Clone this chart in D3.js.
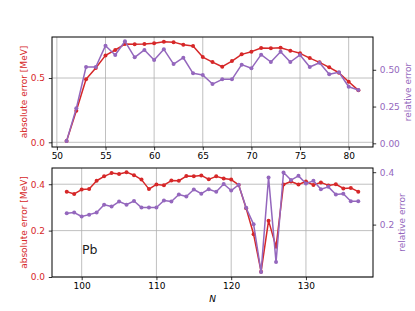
<!DOCTYPE html>
<html>
<head>
<meta charset="utf-8">
<script src="https://cdn.jsdelivr.net/npm/d3@7"></script>
<style>
  body { margin: 0; background: #fff; }
  svg { font-family: "DejaVu Sans", sans-serif; }
</style>
</head>
<body>
<div id="chart"></div>
<script>
// top panel (N = 51..81)
const topN = [51, 52, 53, 54, 55, 56, 57, 58, 59, 60, 61, 62, 63, 64, 65, 66,
  67, 68, 69, 70, 71, 72, 73, 74, 75, 76, 77, 78, 79, 80, 81];
const topAbs = [0.01, 0.246, 0.49, 0.578, 0.676, 0.718, 0.764, 0.762, 0.764, 0.77,
  0.782, 0.779, 0.759, 0.749, 0.663, 0.624, 0.588, 0.632, 0.684, 0.705, 0.733,
  0.731, 0.736, 0.713, 0.692, 0.655, 0.622, 0.583, 0.541, 0.471, 0.404];
const topRel = [0.015, 0.238, 0.519, 0.519, 0.664, 0.601, 0.694, 0.585, 0.635, 0.567,
  0.639, 0.539, 0.582, 0.476, 0.465, 0.403, 0.435, 0.435, 0.535, 0.51, 0.603,
  0.553, 0.623, 0.553, 0.601, 0.519, 0.548, 0.469, 0.483, 0.385, 0.363];

// bottom panel (Pb, N = 98..137)
const botN = [98, 99, 100, 101, 102, 103, 104, 105, 106, 107, 108, 109, 110, 111,
  112, 113, 114, 115, 116, 117, 118, 119, 120, 121, 122, 123, 124, 125, 126, 127,
  128, 129, 130, 131, 132, 133, 134, 135, 136, 137];
const botAbs = [0.368, 0.358, 0.377, 0.379, 0.415, 0.434, 0.448, 0.444, 0.452, 0.439,
  0.42, 0.379, 0.399, 0.396, 0.416, 0.415, 0.435, 0.434, 0.438, 0.421, 0.434, 0.425,
  0.42, 0.397, 0.296, 0.184, 0.023, 0.243, 0.13, 0.399, 0.412, 0.399, 0.412, 0.397,
  0.408, 0.395, 0.4, 0.382, 0.384, 0.368];
const botRel = [0.243, 0.246, 0.231, 0.238, 0.246, 0.276, 0.269, 0.288, 0.276, 0.29,
  0.265, 0.265, 0.265, 0.292, 0.288, 0.315, 0.307, 0.334, 0.318, 0.335, 0.325, 0.355,
  0.33, 0.352, 0.264, 0.201, 0.019, 0.38, 0.057, 0.399, 0.37, 0.386, 0.357, 0.367,
  0.335, 0.344, 0.315, 0.318, 0.289, 0.289];

const topXTicks = [50, 55, 60, 65, 70, 75, 80];
const topLTicks = [0, 0.5];
const topRTicks = [0, 0.25, 0.5];
const botXTicks = [100, 110, 120, 130];
const botLTicks = [0, 0.2, 0.4];
const botRTicks = [0.2, 0.4];

const W = 415, H = 311;
const RED = "#d62728", PURPLE = "#9467bd";
const left = 52, right = 373;

const svg = d3.select("#chart").append("svg")
  .attr("width", W).attr("height", H);

function panel(cfg) {
  const g = svg.append("g");
  const x = d3.scaleLinear().domain(cfg.xDomain).range([left, right]);
  const yL = d3.scaleLinear().domain(cfg.lDomain).range([cfg.bottom, cfg.top]);
  const yR = d3.scaleLinear().domain(cfg.rDomain).range([cfg.bottom, cfg.top]);

  // grid
  g.append("g").selectAll("line").data(cfg.xTicks).join("line")
    .attr("x1", d => x(d)).attr("x2", d => x(d))
    .attr("y1", cfg.top).attr("y2", cfg.bottom)
    .attr("stroke", "#b0b0b0").attr("stroke-width", 0.8);
  g.append("g").selectAll("line").data(cfg.lTicks).join("line")
    .attr("x1", left).attr("x2", right)
    .attr("y1", d => yL(d)).attr("y2", d => yL(d))
    .attr("stroke", "#b0b0b0").attr("stroke-width", 0.8);

  const series = [
    { vals: cfg.abs, y: yL, color: RED },
    { vals: cfg.rel, y: yR, color: PURPLE }
  ];
  series.forEach(s => {
    const pts = cfg.n.map((n, i) => [n, s.vals[i]]);
    const ln = d3.line().x(d => x(d[0])).y(d => s.y(d[1]));
    g.append("path").datum(pts)
      .attr("d", ln).attr("fill", "none")
      .attr("stroke", s.color).attr("stroke-width", 1.5)
      .attr("stroke-linejoin", "round");
    g.append("g").selectAll("circle").data(pts).join("circle")
      .attr("cx", d => x(d[0])).attr("cy", d => s.y(d[1]))
      .attr("r", 2).attr("fill", s.color);
  });

  // frame
  g.append("rect")
    .attr("x", left).attr("y", cfg.top)
    .attr("width", right - left).attr("height", cfg.bottom - cfg.top)
    .attr("fill", "none").attr("stroke", "#000").attr("stroke-width", 1);

  const ax = g.append("g").attr("transform", `translate(0,${cfg.bottom})`)
    .call(d3.axisBottom(x).tickValues(cfg.xTicks).tickSize(3.2).tickPadding(2.6)
      .tickFormat(d3.format("d")));
  const al = g.append("g").attr("transform", `translate(${left},0)`)
    .call(d3.axisLeft(yL).tickValues(cfg.lTicks).tickSize(3.2).tickPadding(3.8)
      .tickFormat(d3.format(".1f")));
  const ar = g.append("g").attr("transform", `translate(${right},0)`)
    .call(d3.axisRight(yR).tickValues(cfg.rTicks).tickSize(3.2).tickPadding(3.6)
      .tickFormat(d3.format(cfg.rFmt)));
  [ax, al, ar].forEach(a => {
    a.select(".domain").remove();
    a.selectAll("text").attr("font-size", 9).attr("font-family", "DejaVu Sans");
    a.selectAll("line").attr("stroke", "#000").attr("stroke-width", 0.8);
  });
  ax.selectAll("text").attr("fill", "#000");
  al.selectAll("text").attr("fill", RED);
  ar.selectAll("text").attr("fill", PURPLE);

  const mid = (cfg.top + cfg.bottom) / 2;
  g.append("text")
    .attr("transform", `translate(26.5,${mid}) rotate(-90)`)
    .attr("text-anchor", "middle").attr("font-size", 9).attr("fill", RED)
    .text("absolute error [MeV]");
  g.append("text")
    .attr("transform", `translate(${cfg.rLabelX},${mid}) rotate(-90)`)
    .attr("text-anchor", "middle").attr("font-size", 9).attr("fill", PURPLE)
    .text("relative error");
  return { x, yL, yR, g };
}

panel({
  top: 37, bottom: 147,
  xDomain: [49.5, 82.5], lDomain: [-0.0365, 0.819], rDomain: [-0.025, 0.723],
  xTicks: topXTicks, lTicks: topLTicks, rTicks: topRTicks, rFmt: ".2f",
  n: topN, abs: topAbs, rel: topRel, rLabelX: 411
});

const bot = panel({
  top: 168, bottom: 277,
  xDomain: [96.03, 138.97], lDomain: [0, 0.47], rDomain: [0, 0.416],
  xTicks: botXTicks, lTicks: botLTicks, rTicks: botRTicks, rFmt: ".1f",
  n: botN, abs: botAbs, rel: botRel, rLabelX: 405
});

bot.g.append("text")
  .attr("x", 82).attr("y", 253.5)
  .attr("font-size", 12.5).attr("fill", "#222")
  .text("Pb");

svg.append("text")
  .attr("x", (left + right) / 2).attr("y", 301.5)
  .attr("text-anchor", "middle").attr("font-size", 9)
  .attr("font-style", "italic").attr("fill", "#000")
  .text("N");
</script>
</body>
</html>
